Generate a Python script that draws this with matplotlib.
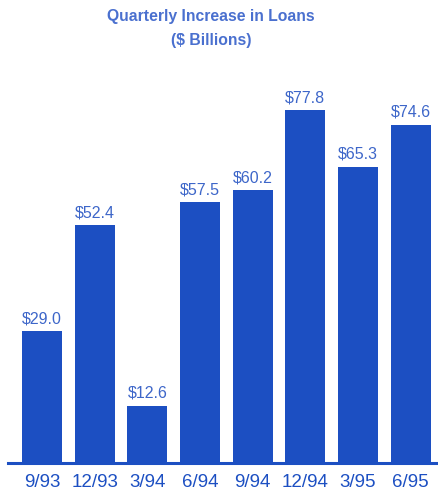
import matplotlib
matplotlib.use("Agg")
import matplotlib.pyplot as plt

categories = ["9/93", "12/93", "3/94", "6/94", "9/94", "12/94", "3/95", "6/95"]
values = [29.0, 52.4, 12.6, 57.5, 60.2, 77.8, 65.3, 74.6]
value_labels = ["$29.0", "$52.4", "$12.6", "$57.5", "$60.2", "$77.8", "$65.3", "$74.6"]

W, H = 438, 495
fig = plt.figure(figsize=(W / 100, H / 100), dpi=100)
fig.patch.set_facecolor("white")

bar_color = "#1c4fc2"
text_color = "#3d66c9"
title_color = "#4a70cf"

ax_left = 8 / W
ax_bottom = (H - 463) / H
ax_top = (H - 80) / H
ax = fig.add_axes([ax_left, ax_bottom, 1.0 - ax_left, ax_top - ax_bottom])

x = list(range(len(categories)))
ax.bar(x, values, width=0.76, color=bar_color, zorder=2)
ax.set_xlim(-0.646, 7.52)
ax.set_ylim(0, 383 / 4.537)

for xi, v, lab in zip(x, values, value_labels):
    ax.annotate(lab, (xi, v), xytext=(0, 3.5), textcoords="offset points",
                ha="center", va="bottom", fontsize=11.5, color=text_color,
                family=["Liberation Sans", "DejaVu Sans"])

for s in ["top", "right", "left"]:
    ax.spines[s].set_visible(False)
ax.spines["bottom"].set_color(bar_color)
ax.spines["bottom"].set_linewidth(2.2)
ax.set_yticks([])
ax.set_xticks(x)
ax.set_xticklabels(categories, fontsize=13.5, color=bar_color,
                   family=["Liberation Sans", "DejaVu Sans"])
ax.tick_params(axis="x", length=0, pad=8)

fig.text(0.482, 1 - 17 / H, "Quarterly Increase in Loans", ha="center", va="center",
         fontsize=11.3, fontweight="bold", color=title_color,
         family=["Liberation Sans", "DejaVu Sans"])
fig.text(0.482, 1 - 40 / H, "($ Billions)", ha="center", va="center",
         fontsize=11.3, fontweight="bold", color=title_color,
         family=["Liberation Sans", "DejaVu Sans"])

fig.savefig("out.png", dpi=100, facecolor="white")
